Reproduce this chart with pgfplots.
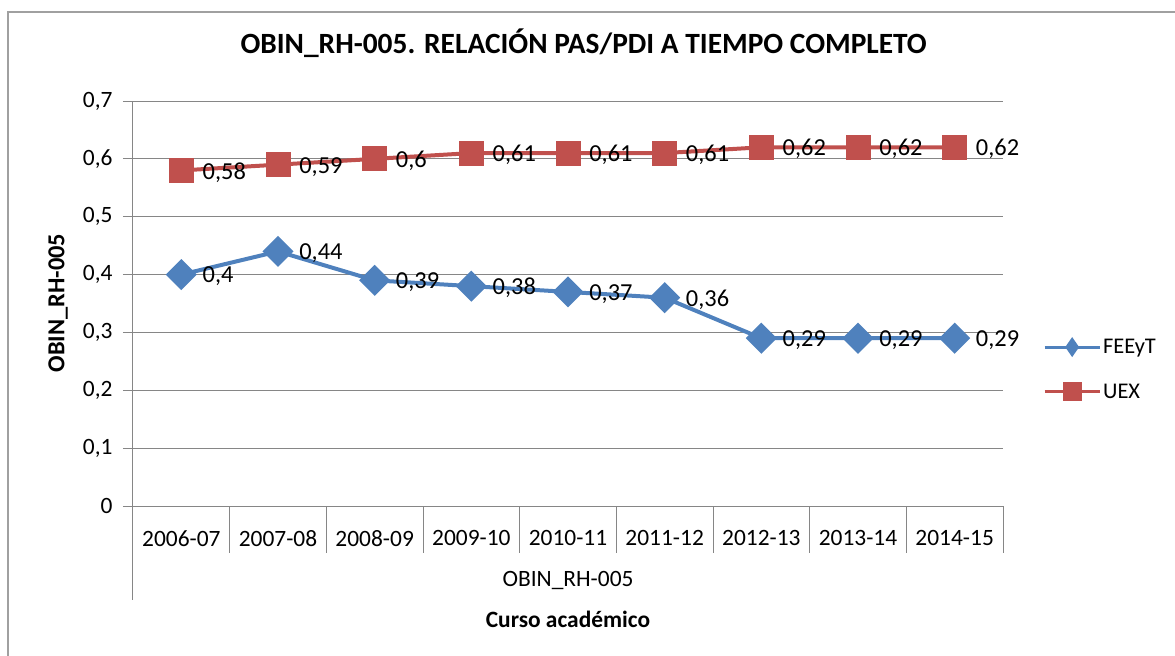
\documentclass[border=0pt]{standalone}
\usepackage{fontspec}
\setmainfont{Carlito}
\usepackage{pgfplots}
\pgfplotsset{compat=1.18}
\definecolor{feeyt}{HTML}{4F81BD}
\definecolor{uex}{HTML}{C0504D}
\definecolor{gridg}{HTML}{868686}
\definecolor{frameg}{HTML}{A0A0A0}

\begin{document}
\begin{tikzpicture}
\begin{axis}[
  name=main,
  width=870bp, height=405bp, scale only axis,
  xmin=-0.5, xmax=8.5, ymin=0, ymax=0.7,
  xtick={0,...,8},
  xticklabels={2006-07,2007-08,2008-09,2009-10,2010-11,2011-12,2012-13,2013-14,2014-15},
  ytick={0,0.1,...,0.7},
  /pgf/number format/.cd, use comma, fixed, precision=2, assume math mode=true, /pgfplots/.cd,
  axis lines*=left, axis line style={gridg, line width=1bp, -},
  ymajorgrids, grid style={gridg, line width=1bp},
  tick align=outside, major tick length=10bp,
  ytick style={gridg, line width=1bp},
  xtick style={draw=none},
  tick label style={font=\fontsize{23.5}{28}\selectfont},
  yticklabel style={xshift=-7bp},
  xticklabel style={yshift=-11bp},
  title={\textbf{OBIN\_RH-005. RELACIÓN PAS/PDI A TIEMPO COMPLETO}},
  title style={font=\fontsize{29.5}{34}\selectfont, at={(rel axis cs:0.518,1.127)}, anchor=center},
  ylabel={\textbf{OBIN\_RH-005}},
  ylabel style={font=\fontsize{24.5}{29}\selectfont, at={(rel axis cs:-0.086,0.501)}, anchor=center},
  xlabel={\textbf{Curso académico}},
  xlabel style={font=\fontsize{23.5}{28}\selectfont, at={(rel axis cs:0.5,-0.279)}, anchor=center},
  nodes near coords,
  every node near coord/.append style={font=\fontsize{24.5}{29}\selectfont, anchor=west, xshift=16bp, yshift=-2bp, text=black},
  legend style={draw=none, fill=none, at={(rel axis cs:1.0425,0.337)}, anchor=west,
    font=\fontsize{22.5}{27}\selectfont, row sep=25bp},
  legend cell align=left,
  clip=false,
]
\addplot[feeyt, line width=4bp, mark=square*, mark size=9bp,
  mark options={rotate=45},
  legend image code/.code={
    \draw[feeyt, line width=3bp] (0bp,0bp) -- (55bp,0bp);
    \fill[feeyt] (27.5bp,6.5bp) -- (32bp,0bp) -- (27.5bp,-6.5bp) -- (23bp,0bp) -- cycle;}]
  coordinates {(0,0.40)(1,0.44)(2,0.39)(3,0.38)(4,0.37)(5,0.36)(6,0.29)(7,0.29)(8,0.29)};
\addlegendentry{FEEyT}
\addplot[uex, line width=4bp, mark=square*, mark size=10.5bp,
  legend image code/.code={
    \draw[uex, line width=3bp] (0bp,0bp) -- (55bp,0bp);
    \fill[uex] (20bp,-7.5bp) rectangle (35bp,7.5bp);}]
  coordinates {(0,0.58)(1,0.59)(2,0.60)(3,0.61)(4,0.61)(5,0.61)(6,0.62)(7,0.62)(8,0.62)};
\addlegendentry{UEX}
% category separators of the two-level axis
\foreach \k in {0.5,1.5,...,8.5} {
  \edef\tmp{\noexpand\draw[gridg, line width=1bp] (axis cs:\k,0) -- ++(0bp,-47bp);}\tmp
}
\draw[gridg, line width=1bp] (axis cs:-0.5,0) -- ++(0bp,-94bp);
\node[font=\fontsize{23.5}{28}\selectfont] at (rel axis cs:0.5,-0.183) {OBIN\_RH-005};
\end{axis}
% page = reference canvas, axis box at x 133..1003, y 101..506 (from top)
\pgfresetboundingbox
\useasboundingbox ([shift={(-133bp,-150bp)}]main.south west) rectangle ([shift={(172bp,101bp)}]main.north east);
\draw[frameg,line width=1.5bp] ([shift={(-125bp,-160bp)}]main.south west) -- ([shift={(-125bp,89bp)}]main.north west) -- ([shift={(180bp,89bp)}]main.north east);
\end{tikzpicture}
\end{document}
